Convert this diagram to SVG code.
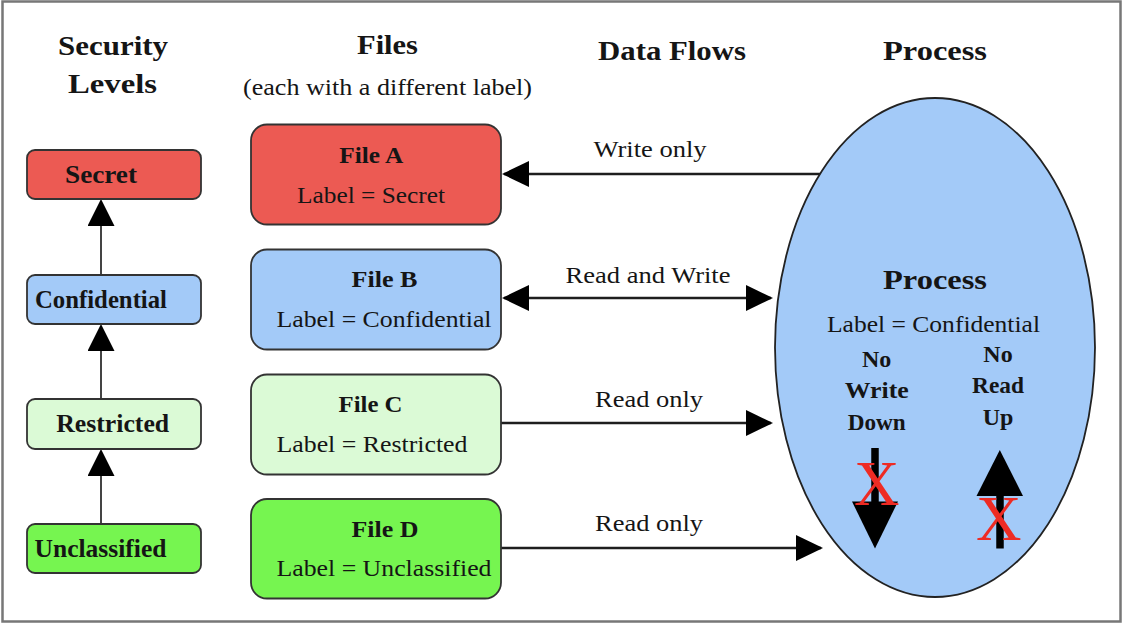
<svg xmlns="http://www.w3.org/2000/svg" width="1122" height="624" viewBox="0 0 1122 624">
<style>
  .h { font-family: "Liberation Serif", "Times New Roman", serif; font-weight: bold; font-size: 28px; fill: #151515; text-anchor: middle; }
  .sub { font-family: "Liberation Serif", "Times New Roman", serif; font-size: 23px; fill: #151515; text-anchor: middle; }
  .lvl { font-family: "Liberation Serif", "Times New Roman", serif; font-weight: bold; font-size: 25px; fill: #151515; text-anchor: middle; }
  .ft { font-family: "Liberation Serif", "Times New Roman", serif; font-weight: bold; font-size: 24px; fill: #151515; text-anchor: middle; }
  .fl { font-family: "Liberation Serif", "Times New Roman", serif; font-size: 24px; fill: #151515; text-anchor: middle; }
  .el { font-family: "Liberation Serif", "Times New Roman", serif; font-size: 24px; fill: #151515; text-anchor: middle; }
  .rule { font-family: "Liberation Serif", "Times New Roman", serif; font-weight: bold; font-size: 24px; fill: #151515; text-anchor: middle; }
  .x { font-family: "Liberation Serif", "Times New Roman", serif; font-size: 63px; fill: #EE2B24; text-anchor: middle; }
  .box { stroke: #333; stroke-width: 1.8; }
  .conn { stroke: #1e1e1e; stroke-width: 2.5; fill: none; }
  .up { stroke: #444; stroke-width: 2; fill: none; }
</style>
<defs>
  <marker id="ah" markerUnits="userSpaceOnUse" viewBox="0 0 27 26" refX="25" refY="13" markerWidth="27" markerHeight="26" orient="auto-start-reverse">
    <path d="M0,0 L27,13 L0,26 Z" fill="#000"/>
  </marker>
  <marker id="ahv" markerUnits="userSpaceOnUse" viewBox="0 0 27 27" refX="25" refY="13.5" markerWidth="27" markerHeight="27" orient="auto">
    <path d="M0,0 L27,13.5 L0,27 Z" fill="#000"/>
  </marker>
</defs>

<rect x="2.5" y="1.5" width="1118" height="620" fill="#fff" stroke="#777" stroke-width="2.5"/>

<g id="headings">
  <text class="h" x="113" y="55" textLength="110" lengthAdjust="spacingAndGlyphs">Security</text>
  <text class="h" x="112.5" y="93" textLength="89" lengthAdjust="spacingAndGlyphs">Levels</text>
  <text class="h" x="387.5" y="54" textLength="61" lengthAdjust="spacingAndGlyphs">Files</text>
  <text class="sub" x="387.5" y="95" textLength="289" lengthAdjust="spacingAndGlyphs">(each with a different label)</text>
  <text class="h" x="672" y="60" textLength="148" lengthAdjust="spacingAndGlyphs">Data Flows</text>
  <text class="h" x="935" y="60" textLength="104" lengthAdjust="spacingAndGlyphs">Process</text>
</g>

<g id="connectors">
  <line class="up" x1="101" y1="524" x2="101" y2="451" marker-end="url(#ahv)"/>
  <line class="up" x1="101" y1="399" x2="101" y2="326" marker-end="url(#ahv)"/>
  <line class="up" x1="101" y1="275" x2="101" y2="201" marker-end="url(#ahv)"/>
  <line class="conn" x1="822" y1="174" x2="504" y2="174" marker-end="url(#ah)"/>
  <line class="conn" x1="504" y1="298" x2="771" y2="298" marker-start="url(#ah)" marker-end="url(#ah)"/>
  <line class="conn" x1="501" y1="423" x2="771" y2="423" marker-end="url(#ah)"/>
  <line class="conn" x1="501" y1="548" x2="821" y2="548" marker-end="url(#ah)"/>
  <text class="el" x="650" y="157" textLength="113" lengthAdjust="spacingAndGlyphs">Write only</text>
  <text class="el" x="648" y="283" textLength="165" lengthAdjust="spacingAndGlyphs">Read and Write</text>
  <text class="el" x="649" y="407" textLength="108" lengthAdjust="spacingAndGlyphs">Read only</text>
  <text class="el" x="649" y="531" textLength="108" lengthAdjust="spacingAndGlyphs">Read only</text>
</g>

<g id="level-secret">
  <rect class="box" x="27" y="150" width="174" height="49" rx="8" fill="#EC5A53"/>
  <text class="lvl" x="101" y="183" textLength="72" lengthAdjust="spacingAndGlyphs">Secret</text>
</g>
<g id="level-confidential">
  <rect class="box" x="27" y="275" width="174" height="49" rx="8" fill="#A3CAF8"/>
  <text class="lvl" x="101" y="307.5" textLength="132" lengthAdjust="spacingAndGlyphs">Confidential</text>
</g>
<g id="level-restricted">
  <rect class="box" x="27" y="399" width="174" height="50" rx="8" fill="#DBFAD6"/>
  <text class="lvl" x="112.7" y="431.5" textLength="113" lengthAdjust="spacingAndGlyphs">Restricted</text>
</g>
<g id="level-unclassified">
  <rect class="box" x="27" y="524" width="174" height="49" rx="8" fill="#76F550"/>
  <text class="lvl" x="100.5" y="556.5" textLength="132" lengthAdjust="spacingAndGlyphs">Unclassified</text>
</g>

<g id="file-a">
  <rect class="box" x="251" y="124.5" width="250" height="100" rx="16" fill="#EC5A53"/>
  <text class="ft" x="371.3" y="163" textLength="64" lengthAdjust="spacingAndGlyphs">File A</text>
  <text class="fl" x="371" y="202.5" textLength="148" lengthAdjust="spacingAndGlyphs">Label = Secret</text>
</g>
<g id="file-b">
  <rect class="box" x="251" y="249.5" width="250" height="100" rx="16" fill="#A3CAF8"/>
  <text class="ft" x="384.5" y="286.5" textLength="66" lengthAdjust="spacingAndGlyphs">File B</text>
  <text class="fl" x="384" y="326.5" textLength="215" lengthAdjust="spacingAndGlyphs">Label = Confidential</text>
</g>
<g id="file-c">
  <rect class="box" x="251" y="374.5" width="250" height="100" rx="16" fill="#DBFAD6"/>
  <text class="ft" x="370.5" y="411.5" textLength="64" lengthAdjust="spacingAndGlyphs">File C</text>
  <text class="fl" x="372" y="451.5" textLength="191" lengthAdjust="spacingAndGlyphs">Label = Restricted</text>
</g>
<g id="file-d">
  <rect class="box" x="251" y="499" width="250" height="99.5" rx="16" fill="#76F550"/>
  <text class="ft" x="385" y="536.5" textLength="67" lengthAdjust="spacingAndGlyphs">File D</text>
  <text class="fl" x="384" y="576" textLength="215" lengthAdjust="spacingAndGlyphs">Label = Unclassified</text>
</g>

<g id="process">
  <ellipse cx="935" cy="347.5" rx="160" ry="249.5" fill="#A3CAF8" stroke="#222" stroke-width="1.8"/>
  <text class="h" x="935" y="289" textLength="104" lengthAdjust="spacingAndGlyphs">Process</text>
  <text class="el" x="933.5" y="331.5" textLength="213" lengthAdjust="spacingAndGlyphs">Label = Confidential</text>
  <text class="rule" x="876.7" y="366.5">No</text>
  <text class="rule" x="876.7" y="398" textLength="64" lengthAdjust="spacingAndGlyphs">Write</text>
  <text class="rule" x="876.7" y="430" textLength="58" lengthAdjust="spacingAndGlyphs">Down</text>
  <text class="rule" x="998" y="361.5">No</text>
  <text class="rule" x="998" y="393" textLength="52" lengthAdjust="spacingAndGlyphs">Read</text>
  <text class="rule" x="998" y="424.5">Up</text>
  <line x1="875" y1="448" x2="875" y2="503" stroke="#000" stroke-width="7.5"/>
  <polygon points="852,501.5 898,501.5 875,548.5" fill="#000"/>
  <line x1="1000" y1="494" x2="1000" y2="548.5" stroke="#000" stroke-width="7.5"/>
  <polygon points="976.5,496 1023,496 999.8,450" fill="#000"/>
  <text class="x" x="876.7" y="505">X</text>
  <text class="x" x="998.8" y="540">X</text>
</g>
</svg>
